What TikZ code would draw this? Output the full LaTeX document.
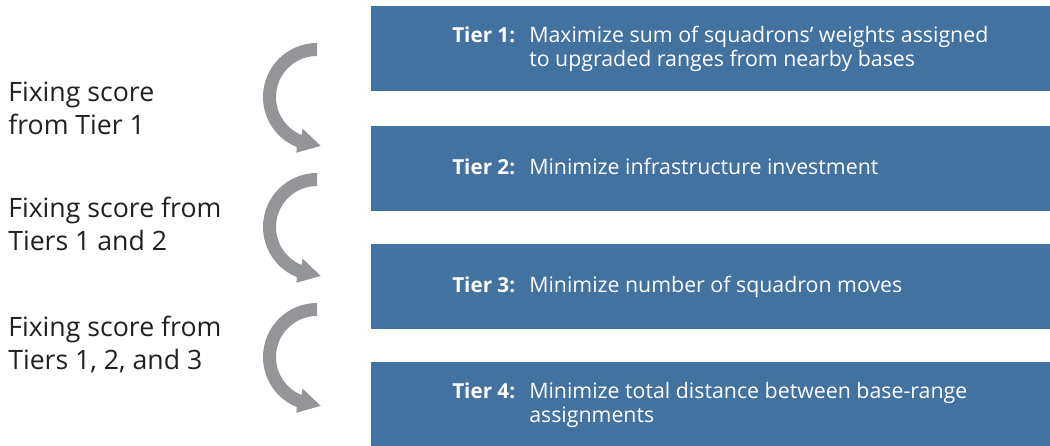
\documentclass[tikz,border=0pt]{standalone}
\usepackage{fontspec}
\setmainfont{Open Sans}
\usetikzlibrary{calc}
\definecolor{tierblue}{RGB}{66,114,160}
\definecolor{arrowgray}{RGB}{147,149,152}
\definecolor{labeltext}{RGB}{35,31,32}
\tikzset{
  tierbox/.style={fill=tierblue, draw=none, anchor=south west, inner sep=0,
    minimum width=509.25pt, minimum height=63.75pt},
  tiertag/.style={anchor=base west, inner sep=0, text=white,
    font=\fontsize{15.5}{18}\selectfont\bfseries},
  tiertext/.style={anchor=base west, inner sep=0, text=white,
    font=\fontsize{16}{18}\selectfont},
  sidelabel/.style={anchor=base west, inner sep=0, text=labeltext,
    font=\fontsize{20}{24.75}\selectfont},
}
\newcommand{\curvedarrow}[1]{%
  \fill[arrowgray] ($(#1)+(90:40.5pt)$) arc[start angle=90, end angle=248, radius=40.5pt]
    -- ($(#1)+(-20.6,-55.7)$) -- ($(#1)+(3.7,-48.9)$) -- ($(#1)+(-14.6,-31.5)$)
    -- ($(#1)+(248:30.75pt)$) arc[start angle=248, end angle=90, radius=30.75pt] -- cycle;}
\begin{document}
\begin{tikzpicture}[x=0.75pt, y=0.75pt]
\useasboundingbox (0,0) rectangle (1050,446);
% boxes
\node[tierbox] (b1) at (371,355) {};
\node[tierbox] (b2) at (371,235) {};
\node[tierbox] (b3) at (371,117) {};
\node[tierbox, minimum height=63pt] (b4) at (371,0) {};
% box texts
\node[tiertag] (g1) at (452,403) {Tier 1:};
\node[tiertext] (x1) at (529,403) {\vtop{\hbox{Maximize sum of squadrons’ weights assigned}\hbox{to upgraded ranges from nearby bases}}};
\node[tiertag] (g2) at (452,271) {Tier 2:};
\node[tiertext] (x2) at (529,271) {Minimize infrastructure investment};
\node[tiertag] (g3) at (452,153) {Tier 3:};
\node[tiertext] (x3) at (529,153) {Minimize number of squadron moves};
\node[tiertag] (g4) at (452,47) {Tier 4:};
\node[tiertext] (x4) at (529,47) {\vtop{\hbox{Minimize total distance between base-range}\hbox{assignments}}};
% side labels
\node[sidelabel] (s1) at (8,344) {\vtop{\hbox{Fixing score}\hbox{from Tier 1}}};
\node[sidelabel] (s2) at (8,228) {\vtop{\hbox{Fixing score from}\hbox{Tiers 1 and 2}}};
\node[sidelabel] (s3) at (8,109) {\vtop{\hbox{Fixing score from}\hbox{Tiers 1, 2, and 3}}};
% arrows
\coordinate (c1) at (317,349);
\coordinate (c2) at (317,219);
\coordinate (c3) at (317,89);
\curvedarrow{c1}
\curvedarrow{c2}
\curvedarrow{c3}
\end{tikzpicture}
\end{document}
